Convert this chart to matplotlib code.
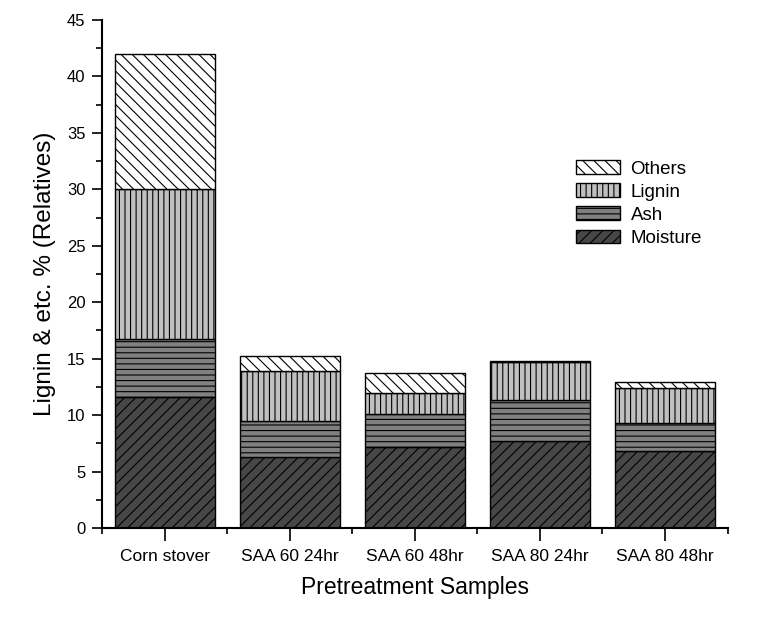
import matplotlib.pyplot as plt
import numpy as np

plt.rcParams['font.family'] = ['Liberation Sans', 'DejaVu Sans']
plt.rcParams['hatch.linewidth'] = 0.8

samples = ["Corn stover", "SAA 60 24hr", "SAA 60 48hr", "SAA 80 24hr", "SAA 80 48hr"]
moisture = [11.6, 6.3, 7.2, 7.7, 6.8]
ash = [5.1, 3.2, 2.9, 3.6, 2.5]
lignin = [13.3, 4.4, 1.9, 3.4, 3.1]
others = [12.0, 1.3, 1.7, 0.05, 0.5]

fig = plt.figure(figsize=(7.74, 6.21), dpi=100)
ax = fig.add_axes([0.132, 0.1498, 0.808, 0.818])

x = np.arange(len(samples))
w = 0.8
b1 = np.array(moisture)
b2 = b1 + np.array(ash)
b3 = b2 + np.array(lignin)

ax.bar(x, moisture, w, color="#474747", edgecolor="black", linewidth=1, hatch="///", label="Moisture")
ax.bar(x, ash, w, bottom=b1, color="#808080", edgecolor="black", linewidth=1, hatch="---", label="Ash")
ax.bar(x, lignin, w, bottom=b2, color="#c0c0c0", edgecolor="black", linewidth=1, hatch="|||", label="Lignin")
ax.bar(x, others, w, bottom=b3, color="white", edgecolor="black", linewidth=1, hatch="\\\\\\", label="Others")

ax.set_xlim(-0.5, 4.5)
ax.set_ylim(0, 45)
ax.set_xticks(x)
ax.set_xticklabels(samples)
ax.set_xticks(np.arange(-0.5, 5, 1), minor=True)
ax.set_yticks(np.arange(0, 46, 5))
ax.set_yticks(np.arange(0, 45, 2.5), minor=True)
ax.tick_params(axis='both', which='major', direction='out', length=7, width=1.2, labelsize=12, pad=5)
ax.tick_params(axis='both', which='minor', direction='out', length=4, width=1.2)
ax.tick_params(axis='x', which='major', length=9, pad=6, labelsize=12.5)

ax.spines['top'].set_visible(False)
ax.spines['right'].set_visible(False)
ax.spines['left'].set_linewidth(1.5)
ax.spines['bottom'].set_linewidth(1.5)

ax.set_xlabel("Pretreatment Samples", fontsize=16.5, labelpad=9)
ax.set_ylabel("Lignin & etc. % (Relatives)", fontsize=17.5, labelpad=8)

handles, labels = ax.get_legend_handles_labels()
ax.legend(handles[::-1], labels[::-1], loc='upper left', bbox_to_anchor=(0.743, 0.742),
          frameon=False, fontsize=13.5, handlelength=2.35, handleheight=0.75,
          labelspacing=0.3, handletextpad=0.55, borderpad=0)

fig.savefig("out.png", dpi=100)
